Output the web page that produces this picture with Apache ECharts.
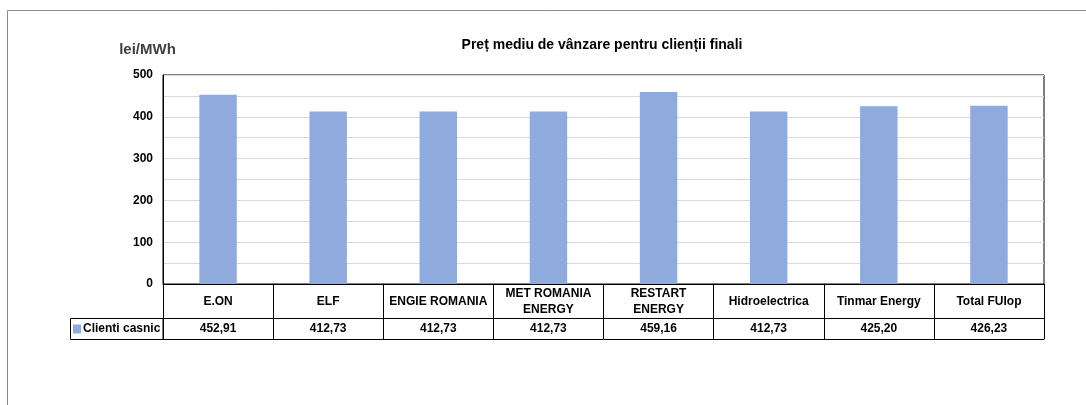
<!DOCTYPE html>
<html>
<head>
<meta charset="utf-8">
<script src="https://cdn.jsdelivr.net/npm/echarts@6/dist/echarts.min.js"></script>
<style>
  html, body { margin: 0; padding: 0; background: #fff; }
  #main { width: 1086px; height: 405px; }
</style>
</head>
<body>
<div id="main"></div>
<script>
// date grafic
var categories = ['E.ON', 'ELF', 'ENGIE ROMANIA', 'MET ROMANIA\nENERGY', 'RESTART\nENERGY', 'Hidroelectrica', 'Tinmar Energy', 'Total FUIop'];
var seriesName = 'Clienti casnic';
var values = [452.91, 412.73, 412.73, 412.73, 459.16, 412.73, 425.20, 426.23];
var yTicks = [0, 100, 200, 300, 400, 500];

var font = '"Liberation Sans", Arial, sans-serif';
var barColor = '#8faadc';

function fmt(v) {
  return v.toFixed(2).replace('.', ',');
}

var myChart = echarts.init(document.getElementById('main'), null, { renderer: 'canvas' });

var option = {
  animation: false,
  backgroundColor: '#fff',
  textStyle: { fontFamily: font },
  title: {
    text: 'Preț mediu de vânzare pentru clienții finali',
    left: 597,
    top: 33,
    textAlign: 'center',
    textStyle: { fontFamily: font, fontSize: 14, fontWeight: 'bold', color: '#000' }
  },
  legend: {
    data: [seriesName],
    left: 73,
    top: 323,
    icon: 'rect',
    itemWidth: 8,
    itemHeight: 9,
    itemGap: 0,
    padding: 0,
    selectedMode: false,
    textStyle: { fontFamily: font, fontSize: 12, fontWeight: 'bold', color: '#000', padding: [0, 0, 0, -3] }
  },
  grid: {
    left: 163,
    right: 42,
    top: 75,
    bottom: 121,
    show: true,
    borderColor: '#000',
    borderWidth: 1,
    containLabel: false
  },
  xAxis: [
    {
      type: 'category',
      data: categories,
      position: 'bottom',
      axisLine: { show: true, lineStyle: { color: '#000', width: 1 } },
      axisTick: { show: true, interval: 0, length: 55, lineStyle: { color: '#000', width: 1 } },
      axisLabel: {
        interval: 0,
        margin: 17.5,
        verticalAlign: 'middle',
        lineHeight: 16,
        fontFamily: font,
        fontSize: 12,
        fontWeight: 'bold',
        color: '#000'
      }
    },
    {
      type: 'category',
      data: values.map(fmt),
      position: 'bottom',
      offset: 34,
      axisLine: { show: true, lineStyle: { color: '#000', width: 1 } },
      axisTick: { show: false },
      axisLabel: {
        interval: 0,
        margin: 10.5,
        verticalAlign: 'middle',
        fontFamily: font,
        fontSize: 12,
        fontWeight: 'bold',
        color: '#000'
      }
    },
    {
      type: 'category',
      data: categories,
      position: 'bottom',
      offset: 55,
      axisLine: { show: true, lineStyle: { color: '#000', width: 1 } },
      axisTick: { show: false },
      axisLabel: { show: false }
    }
  ],
  yAxis: {
    type: 'value',
    min: yTicks[0],
    max: yTicks[yTicks.length - 1],
    interval: 50,
    name: 'lei/MWh',
    nameLocation: 'end',
    nameGap: 18,
    nameTextStyle: {
      fontFamily: font,
      fontSize: 15,
      fontWeight: 'bold',
      color: '#404040',
      align: 'center',
      padding: [0, 31, 0, 0]
    },
    axisLine: { show: true, lineStyle: { color: '#000' } },
    axisTick: { show: false },
    splitLine: { show: true, lineStyle: { color: '#d9d9d9', width: 1 } },
    axisLabel: {
      margin: 10,
      fontFamily: font,
      fontSize: 12,
      fontWeight: 'bold',
      color: '#000',
      formatter: function (v) {
        return yTicks.indexOf(v) >= 0 ? String(v) : '';
      }
    }
  },
  series: [{
    name: seriesName,
    type: 'bar',
    xAxisIndex: 0,
    barWidth: '34%',
    itemStyle: { color: barColor },
    data: values
  }],
  graphic: [
    // chenar exterior
    {
      type: 'rect',
      shape: { x: 7.5, y: 10.5, width: 1100, height: 420 },
      style: { fill: 'none', stroke: '#8c8c8c', lineWidth: 1 },
      silent: true
    },
    // celula legenda
    {
      type: 'rect',
      shape: { x: 70.5, y: 318.5, width: 92.5, height: 21 },
      style: { fill: 'none', stroke: '#000', lineWidth: 1 },
      silent: true
    }
  ]
};

myChart.setOption(option, true);
</script>
</body>
</html>
